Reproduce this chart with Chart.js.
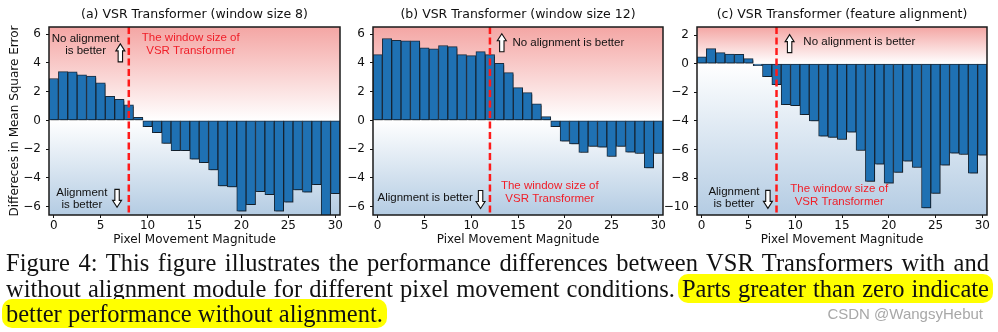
<!doctype html>
<html lang="en">
<head>
<meta charset="UTF-8" />
<title>VSR Transformer alignment</title>
<script src="https://cdn.jsdelivr.net/npm/chart.js"></script>
<style>
    html, body { margin: 0; padding: 0; background: #fff; }
    body { width: 998px; height: 332px; position: relative; overflow: hidden; }
    canvas { position: absolute; top: 0; }
    #caption {
        position: absolute; left: 6px; top: 250px; width: 983px;
        font-family: "Liberation Serif", serif; font-size: 24.5px; line-height: 25.5px; color: #111;
    }
    .ln { white-space: nowrap; text-align: justify; text-align-last: justify; }
    .ln.last { text-align-last: left; }
    .hl { background: #ffff00; border-radius: 10px; padding: 1px 4px; margin: 0 -4px; }
    #mark {
        position: absolute; right: 15px; top: 305px;
        font-family: "Liberation Sans", sans-serif; font-size: 15px; color: #a8a8a8;
    }
</style>
</head>
<body>
<canvas id="pa" width="348" height="250" style="left:0px"></canvas>
<canvas id="pb" width="330" height="250" style="left:340px"></canvas>
<canvas id="pc" width="338" height="250" style="left:660px"></canvas>

<div id="caption">
    <div class="ln">Figure 4: This figure illustrates the performance differences between VSR Transformers with and</div>
    <div class="ln">without alignment module for different pixel movement conditions. <span class="hl">Parts greater than zero indicate</span></div>
    <div class="ln last"><span class="hl">better performance without alignment.</span></div>
</div>
<div id="mark">CSDN @WangsyHebut</div>

<script>
    // pixel movement magnitude (x categories)
    const pixels = [0, 1, 2, 3, 4, 5, 6, 7, 8, 9, 10, 11, 12, 13, 14, 15, 16, 17, 18, 19, 20,
        21, 22, 23, 24, 25, 26, 27, 28, 29, 30];

    // difference in MSE (no alignment - alignment)
    const mseWin8 = [2.92, 3.40, 3.38, 3.17, 3.08, 2.62, 1.67, 1.46, 1.09, 0.21, -0.44, -0.86, -1.60,
        -2.10, -2.10, -2.70, -2.94, -3.45, -4.56, -4.63, -6.32, -5.86, -4.95, -5.16, -6.32, -5.69,
        -4.84, -5.00, -4.47, -6.70, -5.09];
    const mseWin12 = [4.58, 5.70, 5.58, 5.53, 5.53, 5.05, 4.98, 5.21, 5.14, 4.58, 4.51, 4.79, 4.58,
        3.98, 3.33, 2.28, 1.93, 1.16, 0.26, -0.44, -1.44, -1.63, -2.23, -1.81, -1.86, -2.51, -1.81,
        -2.21, -2.30, -3.30, -2.30];
    const mseFeat = [0.47, 1.05, 0.77, 0.67, 0.65, 0.35, -0.14, -0.91, -1.47, -2.86, -2.93, -3.56,
        -4.00, -5.07, -5.16, -5.30, -4.79, -6.07, -8.23, -7.02, -8.35, -7.60, -6.81, -7.26, -10.09,
        -9.07, -7.09, -6.26, -6.35, -7.65, -6.40];

    const titles = ['(a) VSR Transformer (window size 8)', '(b) VSR Transformer (window size 12)',
        '(c) VSR Transformer (feature alignment)'];
    const windowSizes = [8, 12, 8];

    // tick labels
    const xTicks = [0, 5, 10, 15, 20, 25, 30];
    const yTicksAB = [-6, -4, -2, 0, 2, 4, 6];
    const yTicksC = [-10, -8, -6, -4, -2, 0, 2];

    const black = '#111';
    const red = '#f0202a';

    /* panel decorations: gradient background, bar shadow, dashed line, notes, frame */
    const panelPlugin = {
        id: 'panel',
        beforeDatasetsDraw(chart) {
            const { ctx, chartArea: a, scales: { y } } = chart;
            const y0 = y.getPixelForValue(0);
            ctx.save();
            let g = ctx.createLinearGradient(0, a.top, 0, y0);
            g.addColorStop(0, '#f4a6a4');
            g.addColorStop(1, '#ffffff');
            ctx.fillStyle = g;
            ctx.fillRect(a.left, a.top, a.width, y0 - a.top);
            g = ctx.createLinearGradient(0, y0, 0, a.bottom);
            g.addColorStop(0, '#ffffff');
            g.addColorStop(1, '#b4cce3');
            ctx.fillStyle = g;
            ctx.fillRect(a.left, y0, a.width, a.bottom - y0);
            ctx.restore();

            ctx.save();
            ctx.shadowColor = 'rgba(0,0,0,0.32)';
            ctx.shadowOffsetX = 1.5;
            ctx.shadowOffsetY = 1.5;
        },
        afterDatasetsDraw(chart, args, opts) {
            const { ctx, chartArea: a, scales: { x, y } } = chart;
            ctx.restore();

            // window size line
            const wx = x.getPixelForValue(opts.windowSize);
            ctx.save();
            ctx.strokeStyle = '#ff1a1a';
            ctx.lineWidth = 2.5;
            ctx.setLineDash([7, 3.5]);
            ctx.beginPath();
            ctx.moveTo(wx, a.top);
            ctx.lineTo(wx, a.bottom);
            ctx.stroke();
            ctx.restore();

            // notes
            ctx.save();
            ctx.font = '11.5px "Liberation Sans"';
            ctx.textBaseline = 'middle';
            opts.notes.forEach(n => {
                ctx.fillStyle = n.color || black;
                ctx.textAlign = n.align || 'center';
                ctx.fillText(n.text, x.getPixelForValue(n.x), y.getPixelForValue(n.y));
            });
            ctx.restore();

            // hollow arrows
            opts.arrows.forEach(ar => {
                const cx = x.getPixelForValue(ar.x), cy = y.getPixelForValue(ar.y);
                const h = 18, hw = 4.5, sw = 2.2, hh = 7;
                const s = ar.dir === 'up' ? 1 : -1;
                const tip = cy - s * h / 2, base = cy + s * h / 2, neck = tip + s * hh;
                ctx.save();
                ctx.beginPath();
                ctx.moveTo(cx, tip);
                ctx.lineTo(cx + hw, neck);
                ctx.lineTo(cx + sw, neck);
                ctx.lineTo(cx + sw, base);
                ctx.lineTo(cx - sw, base);
                ctx.lineTo(cx - sw, neck);
                ctx.lineTo(cx - hw, neck);
                ctx.closePath();
                ctx.fillStyle = '#fff';
                ctx.fill();
                ctx.strokeStyle = '#111';
                ctx.lineWidth = 1.1;
                ctx.stroke();
                ctx.restore();
            });

            // frame
            ctx.save();
            ctx.strokeStyle = '#1a1a1a';
            ctx.lineWidth = 1.5;
            ctx.strokeRect(a.left, a.top, a.width, a.height);
            ctx.restore();
        }
    };

    function fmtTick(v) {
        return v < 0 ? '\u2212' + Math.abs(v) : String(v);
    }

    function makePanel(id, idx, values, yMin, yMax, yTicks, yWidth, rightPad, yTitle, notes, arrows) {
        return new Chart(document.getElementById(id), {
            type: 'bar',
            data: {
                labels: pixels,
                datasets: [{
                    data: values,
                    backgroundColor: '#1f71b3',
                    borderColor: '#1a2b3c',
                    borderWidth: 1,
                    borderSkipped: false,
                    barPercentage: 1,
                    categoryPercentage: 1
                }]
            },
            plugins: [panelPlugin],
            options: {
                responsive: false,
                animation: false,
                devicePixelRatio: 1,
                layout: { padding: { left: 0, right: rightPad, top: 0, bottom: 0 } },
                plugins: {
                    legend: { display: false },
                    tooltip: { enabled: false },
                    title: {
                        display: true,
                        text: titles[idx],
                        fullSize: false,
                        color: black,
                        font: { family: 'DejaVu Sans', size: 12.5, weight: 'normal', lineHeight: 1.2 },
                        padding: { top: 7.5, bottom: 4.5 }
                    },
                    panel: { windowSize: windowSizes[idx], notes: notes, arrows: arrows }
                },
                scales: {
                    x: {
                        type: 'linear',
                        min: -0.5,
                        max: 30.5,
                        offset: false,
                        afterBuildTicks: s => { s.ticks = xTicks.map(v => ({ value: v })); },
                        afterFit: s => { s.height = 35; },
                        grid: { display: true, offset: false, drawOnChartArea: false, drawTicks: true, tickLength: 3, color: black },
                        border: { display: false },
                        ticks: { padding: 1, color: black, font: { family: 'DejaVu Sans', size: 12 }, callback: fmtTick },
                        title: {
                            display: true,
                            text: 'Pixel Movement Magnitude',
                            color: black,
                            font: { family: 'DejaVu Sans', size: 12, lineHeight: 1.2 },
                            padding: { top: 0, bottom: 2.8 }
                        }
                    },
                    y: {
                        min: yMin,
                        max: yMax,
                        afterBuildTicks: s => { s.ticks = yTicks.map(v => ({ value: v })); },
                        afterFit: s => { s.width = yWidth; },
                        grid: { display: true, drawOnChartArea: false, drawTicks: true, tickLength: 3, color: black },
                        border: { display: false },
                        ticks: { padding: 5, color: black, font: { family: 'DejaVu Sans', size: 12 }, callback: fmtTick },
                        title: {
                            display: !!yTitle,
                            text: yTitle || '',
                            color: black,
                            font: { family: 'DejaVu Sans', size: 12, lineHeight: 1.2 },
                            padding: { top: 8, bottom: 0 }
                        }
                    }
                }
            }
        });
    }

    makePanel('pa', 0, mseWin8, -6.58, 6.5, yTicksAB, 49, 8, 'Differeces in Mean Square Error',
        [
            { x: 3.4, y: 5.67, text: 'No alignment' },
            { x: 3.4, y: 4.83, text: 'is better' },
            { x: 14.6, y: 5.72, text: 'The window size of', color: red },
            { x: 14.6, y: 4.84, text: 'VSR Transformer', color: red },
            { x: 3.0, y: -5.07, text: 'Alignment' },
            { x: 3.0, y: -5.9, text: 'is better' }
        ],
        [{ x: 7.1, y: 4.7, dir: 'up' }, { x: 6.75, y: -5.42, dir: 'down' }]);

    makePanel('pb', 1, mseWin12, -6.58, 6.5, yTicksAB, 33, 7, null,
        [
            { x: 14.4, y: 5.4, text: 'No alignment is better', align: 'left' },
            { x: 5.07, y: -5.41, text: 'Alignment is better' },
            { x: 18.4, y: -4.57, text: 'The window size of', color: red },
            { x: 18.4, y: -5.45, text: 'VSR Transformer', color: red }
        ],
        [{ x: 13.27, y: 5.4, dir: 'up' }, { x: 11.0, y: -5.5, dir: 'down' }]);

    makePanel('pc', 2, mseFeat, -10.58, 2.56, yTicksC, 37, 11, null,
        [
            { x: 10.87, y: 1.49, text: 'No alignment is better', align: 'left' },
            { x: 3.45, y: -8.96, text: 'Alignment' },
            { x: 3.45, y: -9.8, text: 'is better' },
            { x: 14.7, y: -8.77, text: 'The window size of', color: red },
            { x: 14.7, y: -9.66, text: 'VSR Transformer', color: red }
        ],
        [{ x: 9.4, y: 1.4, dir: 'up' }, { x: 7.08, y: -9.49, dir: 'down' }]);
</script>
</body>
</html>
